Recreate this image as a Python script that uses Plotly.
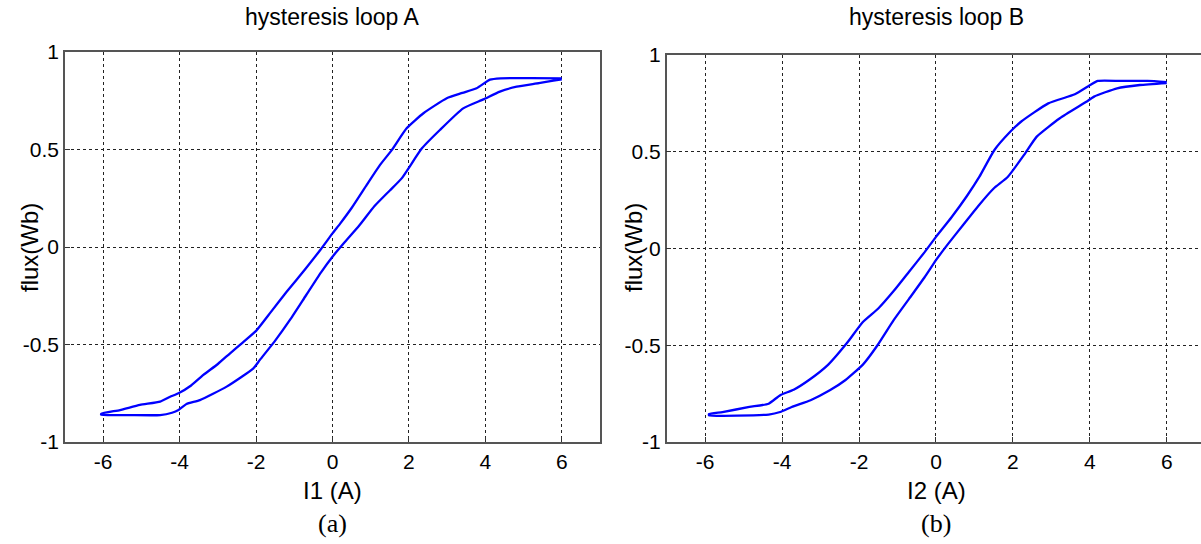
import plotly.graph_objects as go

# ---- data: hysteresis loop A (I1, flux) ----
a_up_x = [6.0, 5.2, 4.4, 4.12, 3.77, 3.4, 2.99, 2.38, 1.94, 1.55, 1.24, 0.9, 0.5, 0.2, 0.0,
          -0.3, -0.7, -1.2, -1.6, -2.0, -2.35, -2.68, -3.0, -3.38, -3.7, -4.03, -4.25, -4.51,
          -5.04, -5.56, -6.05]
a_up_y = [0.865, 0.866, 0.865, 0.858, 0.814, 0.79, 0.763, 0.686, 0.609, 0.497, 0.42, 0.32, 0.2,
          0.12, 0.07, -0.01, -0.11, -0.23, -0.33, -0.43, -0.49, -0.545, -0.6, -0.656, -0.71,
          -0.75, -0.768, -0.793, -0.81, -0.836, -0.855]
a_lo_x = [-6.05, -5.3, -4.51, -4.2, -4.03, -3.82, -3.47, -2.77, -2.07, -1.9, -1.5, -1.1, -0.7,
          -0.3, 0.0, 0.3, 0.7, 1.1, 1.5, 1.81, 2.34, 2.81, 3.42, 3.95, 4.38, 4.82, 5.4, 5.78, 6.0]
a_lo_y = [-0.86, -0.862, -0.862, -0.85, -0.836, -0.805, -0.785, -0.716, -0.622, -0.579, -0.48,
          -0.37, -0.25, -0.13, -0.05, 0.02, 0.11, 0.21, 0.29, 0.352, 0.506, 0.6, 0.711, 0.757,
          0.797, 0.822, 0.84, 0.853, 0.86]

# ---- data: hysteresis loop B (I2, flux) ----
b_up_x = [6.0, 5.5, 4.8, 4.21, 4.01, 3.61, 2.92, 2.21, 1.93, 1.52, 1.13, 0.8, 0.4, 0.0, -0.3,
          -0.7, -1.1, -1.5, -1.9, -2.32, -2.8, -3.31, -3.7, -4.05, -4.35, -4.85, -5.55, -5.9]
b_up_y = [0.86, 0.866, 0.866, 0.866, 0.845, 0.797, 0.75, 0.655, 0.603, 0.509, 0.371, 0.27, 0.16,
          0.06, -0.02, -0.12, -0.22, -0.31, -0.38, -0.49, -0.6, -0.681, -0.73, -0.758, -0.802,
          -0.819, -0.845, -0.855]
b_lo_x = [-5.9, -4.35, -4.05, -3.75, -3.26, -2.76, -2.36, -1.9, -1.52, -1.1, -0.7, -0.3, 0.0,
          0.3, 0.7, 1.1, 1.5, 1.87, 2.32, 2.62, 3.22, 3.91, 4.11, 4.71, 5.3, 6.0]
b_lo_y = [-0.862, -0.858, -0.845, -0.819, -0.784, -0.733, -0.681, -0.6, -0.5, -0.37, -0.26,
          -0.15, -0.06, 0.02, 0.12, 0.22, 0.31, 0.371, 0.492, 0.578, 0.673, 0.758, 0.785, 0.828,
          0.845, 0.855]

x_ticks = [-6, -4, -2, 0, 2, 4, 6]
y_ticks = [-1, -0.5, 0, 0.5, 1]
y_tick_labels = ["-1", "-0.5", "0", "0.5", "1"]

titles = ["hysteresis loop A", "hysteresis loop B"]
x_labels = ["I1 (A)", "I2 (A)"]
y_label = "flux(Wb)"
captions = ["(a)", "(b)"]

W, H = 1201, 544
line = dict(color="#0000FF", width=2.3, shape="spline", smoothing=0.5)

fig = go.Figure()
fig.add_trace(go.Scatter(x=a_up_x + a_lo_x, y=a_up_y + a_lo_y, mode="lines", line=line,
                         xaxis="x", yaxis="y", showlegend=False))
fig.add_trace(go.Scatter(x=b_up_x + b_lo_x, y=b_up_y + b_lo_y, mode="lines", line=line,
                         xaxis="x2", yaxis="y2", showlegend=False))

def px_x(p):
    return p / W

def px_y(p):
    return 1 - p / H

tickfont = dict(family="Liberation Sans, Arial", size=21, color="black")
common_x = dict(tickvals=x_ticks, ticktext=[str(t) for t in x_ticks], showgrid=True,
                gridcolor="#222", griddash="dot", gridwidth=1, zeroline=False, showline=True,
                linecolor="#555", linewidth=1.5, ticks="inside", ticklen=5, tickcolor="#333",
                tickfont=tickfont, fixedrange=True, automargin=False)
common_y = dict(tickvals=y_ticks, ticktext=y_tick_labels, showgrid=True, gridcolor="#222",
                griddash="dot", gridwidth=1, zeroline=False, showline=True, linecolor="#555",
                linewidth=1.5, ticks="inside", ticklen=5, tickcolor="#333", tickfont=tickfont,
                fixedrange=True, range=[-1, 1], automargin=False)

fig.update_layout(
    width=W, height=H,
    margin=dict(l=0, r=0, t=0, b=0, autoexpand=False),
    paper_bgcolor="white", plot_bgcolor="white",
    xaxis=dict(common_x, domain=[px_x(65), px_x(600)], range=[-7, 7], anchor="y", mirror=True),
    yaxis=dict(common_y, domain=[px_y(442), px_y(52)], anchor="x", mirror=True),
    xaxis2=dict(common_x, domain=[px_x(666.7), 1.0], range=[-7, 6.89], anchor="y2", mirror=True),
    yaxis2=dict(common_y, domain=[px_y(442), px_y(55)], anchor="x2", mirror=False),
)

ann = []
title_font = dict(family="Liberation Sans, Arial", size=23, color="black")
label_font = dict(family="Liberation Sans, Arial", size=24, color="black")
cap_font = dict(family="Liberation Serif, Times New Roman", size=26, color="black")
centers = [332.5, 936]
ylab_x = [30, 634]
for i in range(2):
    ann.append(dict(text=titles[i], x=px_x(centers[i]), y=px_y(17), xref="paper", yref="paper",
                    showarrow=False, font=title_font, xanchor="center", yanchor="middle"))
    ann.append(dict(text=x_labels[i], x=px_x(centers[i]), y=px_y(490), xref="paper", yref="paper",
                    showarrow=False, font=label_font, xanchor="center", yanchor="middle"))
    ann.append(dict(text=captions[i], x=px_x(centers[i]), y=px_y(523), xref="paper", yref="paper",
                    showarrow=False, font=cap_font, xanchor="center", yanchor="middle"))
    ann.append(dict(text=y_label, x=px_x(ylab_x[i]), y=px_y(248), xref="paper", yref="paper",
                    showarrow=False, font=label_font, textangle=-90, xanchor="center",
                    yanchor="middle"))
fig.update_layout(annotations=ann)

fig.write_html("out.html", config={"displayModeBar": False},
               post_script="document.body.style.margin='0';"
                           "document.documentElement.style.overflow='hidden';")
